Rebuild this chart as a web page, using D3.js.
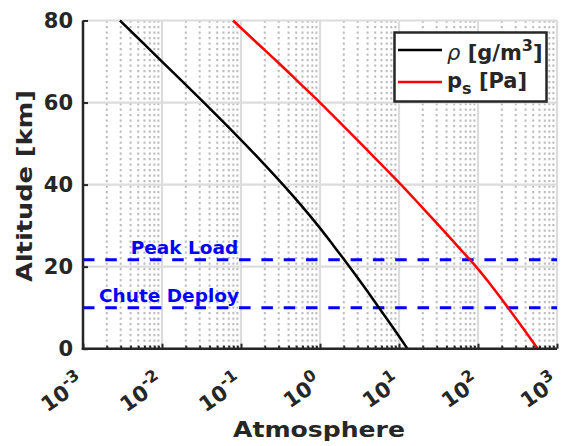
<!DOCTYPE html>
<html>
<head>
<meta charset="utf-8">
<script src="https://cdn.jsdelivr.net/npm/d3@7"></script>
<style>
  body { margin: 0; background: #fff; }
  text { font-family: "DejaVu Sans", sans-serif; font-weight: bold; fill: #262626; }
</style>
</head>
<body>
<div id="chart"></div>
<script>
// data
const altitude = [0, 5, 10, 15, 20, 25, 30, 35, 40, 45, 50, 55, 60, 65, 70, 75, 80];
const density = [12.8, 8.51, 5.58, 3.66, 2.36, 1.50, 0.944, 0.575, 0.340, 0.196, 0.111, 0.0618, 0.0340, 0.0185, 0.0100, 0.00542, 0.00294];
const pressure = [570, 372, 240, 153, 94.4, 55.1, 32.1, 18.5, 10.6, 5.92, 3.30, 1.82, 1.0, 0.535, 0.286, 0.150, 0.0793];
const events = [
    {name: 'Peak Load', alt: 21.7},
    {name: 'Chute Deploy', alt: 10}
];
const xDecades = [-3, -2, -1, 0, 1, 2, 3];
const yTicks = [0, 20, 40, 60, 80];

const svgWidth = 564, svgHeight = 446;
const margin = {left: 83, top: 20.5};
const width = 474, height = 328.2;
const ink = '#262626';

let svg = d3.select('#chart')
    .append('svg')
    .attr('width', svgWidth)
    .attr('height', svgHeight);

let plot = svg.append('g')
    .attr('transform', `translate(${margin.left},${margin.top})`);

// scales
let xScale = d3.scaleLog().domain([1e-3, 1e3]).range([0, width]);
let yScale = d3.scaleLinear().domain([0, 80]).range([height, 0]);

// minor values 2..9 per decade
let minor = [];
xDecades.slice(0, -1).forEach(d => {
    for (let m = 2; m < 10; m++) minor.push(m * Math.pow(10, d));
});

// minor grid (dotted)
plot.append('g')
    .selectAll('line')
    .data(minor)
    .join('line')
    .attr('x1', d => xScale(d)).attr('x2', d => xScale(d))
    .attr('y1', 0).attr('y2', height)
    .attr('stroke', '#bcbcbc')
    .attr('stroke-width', 2)
    .attr('stroke-dasharray', '2.2,3.3');

// major grid
plot.append('g')
    .selectAll('line')
    .data(xDecades.map(d => Math.pow(10, d)))
    .join('line')
    .attr('x1', d => xScale(d)).attr('x2', d => xScale(d))
    .attr('y1', 0).attr('y2', height)
    .attr('stroke', '#dcdcdc')
    .attr('stroke-width', 2.2);

plot.append('g')
    .selectAll('line')
    .data(yTicks)
    .join('line')
    .attr('x1', 0).attr('x2', width)
    .attr('y1', d => yScale(d)).attr('y2', d => yScale(d))
    .attr('stroke', '#dcdcdc')
    .attr('stroke-width', 2.2);

// event lines
plot.append('g')
    .selectAll('line')
    .data(events)
    .join('line')
    .attr('x1', 0).attr('x2', width)
    .attr('y1', d => yScale(d.alt)).attr('y2', d => yScale(d.alt))
    .attr('stroke', '#0000ff')
    .attr('stroke-width', 3)
    .attr('stroke-dasharray', '11.5,10.8');

// curves
let line = d3.line()
    .x(d => xScale(d[0]))
    .y(d => yScale(d[1]))
    .curve(d3.curveMonotoneY);

plot.append('path')
    .attr('d', line(d3.zip(density, altitude)))
    .attr('fill', 'none')
    .attr('stroke', '#000')
    .attr('stroke-width', 2.5);

plot.append('path')
    .attr('d', line(d3.zip(pressure, altitude)))
    .attr('fill', 'none')
    .attr('stroke', '#ff0000')
    .attr('stroke-width', 2.5);

// event labels
const labelPos = {'Peak Load': 184.5, 'Chute Deploy': 169};
plot.append('g')
    .selectAll('text')
    .data(events)
    .join('text')
    .attr('x', d => labelPos[d.name] - margin.left)
    .attr('y', d => yScale(d.alt) - 5.5)
    .attr('text-anchor', 'middle')
    .style('fill', '#0000ff')
    .style('font-size', '18.5px')
    .text(d => d.name);

// axes
let yAxis = plot.append('g')
    .call(d3.axisLeft(yScale).tickValues(yTicks).tickSize(-5).tickPadding(10));
yAxis.select('.domain').attr('stroke', ink).attr('stroke-width', 2.5).attr('d', `M0,${height + 1}V0`);
yAxis.selectAll('.tick line').attr('stroke', ink).attr('stroke-width', 2);
yAxis.selectAll('.tick text')
    .style('font-size', '21px')
    .style('font-family', '"DejaVu Sans", sans-serif')
    .style('font-weight', 'bold')
    .attr('fill', ink);

let xMinorAxis = plot.append('g')
    .attr('transform', `translate(0,${height})`)
    .call(d3.axisBottom(xScale).tickValues(minor).tickSize(-3).tickFormat(''));
xMinorAxis.select('.domain').remove();
xMinorAxis.selectAll('.tick line').attr('stroke', ink).attr('stroke-width', 2);

let xAxis = plot.append('g')
    .attr('transform', `translate(0,${height})`)
    .call(d3.axisBottom(xScale).tickValues(xDecades.map(d => Math.pow(10, d))).tickSize(-5).tickFormat(''));
xAxis.select('.domain').attr('stroke', ink).attr('stroke-width', 2.5).attr('d', `M-1.25,0H${width}`);
xAxis.selectAll('.tick line').attr('stroke', ink).attr('stroke-width', 2);

// rotated power-of-ten labels
let xLabels = plot.append('g')
    .selectAll('text')
    .data(xDecades)
    .join('text')
    .attr('transform', d => `translate(${xScale(Math.pow(10, d)) + 3},${height + 37}) rotate(-35)`)
    .attr('text-anchor', 'end')
    .style('font-size', '21px');
xLabels.append('tspan').text('10');
xLabels.append('tspan')
    .attr('dy', -10)
    .style('font-size', '16px')
    .text(d => d);

// axis titles
svg.append('text')
    .attr('x', 233)
    .attr('y', 437)
    .attr('textLength', 172)
    .attr('lengthAdjust', 'spacingAndGlyphs')
    .style('font-size', '22px')
    .text('Atmosphere');

svg.append('text')
    .attr('transform', 'translate(32,282) rotate(-90)')
    .attr('textLength', 192)
    .attr('lengthAdjust', 'spacingAndGlyphs')
    .style('font-size', '22px')
    .text('Altitude [km]');

// legend
let legend = svg.append('g');
legend.append('rect')
    .attr('x', 394.5).attr('y', 32.5)
    .attr('width', 152).attr('height', 69)
    .attr('fill', '#fff')
    .attr('stroke', ink)
    .attr('stroke-width', 2.5);

legend.append('line')
    .attr('x1', 398).attr('x2', 442).attr('y1', 50).attr('y2', 50)
    .attr('stroke', '#000').attr('stroke-width', 2.5);
legend.append('line')
    .attr('x1', 398).attr('x2', 442).attr('y1', 82).attr('y2', 82)
    .attr('stroke', '#ff0000').attr('stroke-width', 2.5);

let t1 = legend.append('text').attr('x', 447).attr('y', 60).style('font-size', '21px');
t1.append('tspan').style('font-style', 'italic').style('font-weight', 'normal').text('ρ');
t1.append('tspan').text(' [g/m');
t1.append('tspan').attr('dy', -9).style('font-size', '16px').text('3');
t1.append('tspan').attr('dy', 9).text(']');

let t2 = legend.append('text').attr('x', 447).attr('y', 88).style('font-size', '21px');
t2.append('tspan').text('p');
t2.append('tspan').attr('dy', 6).style('font-size', '16px').text('s');
t2.append('tspan').attr('dy', -6).text(' [Pa]');
</script>
</body>
</html>
